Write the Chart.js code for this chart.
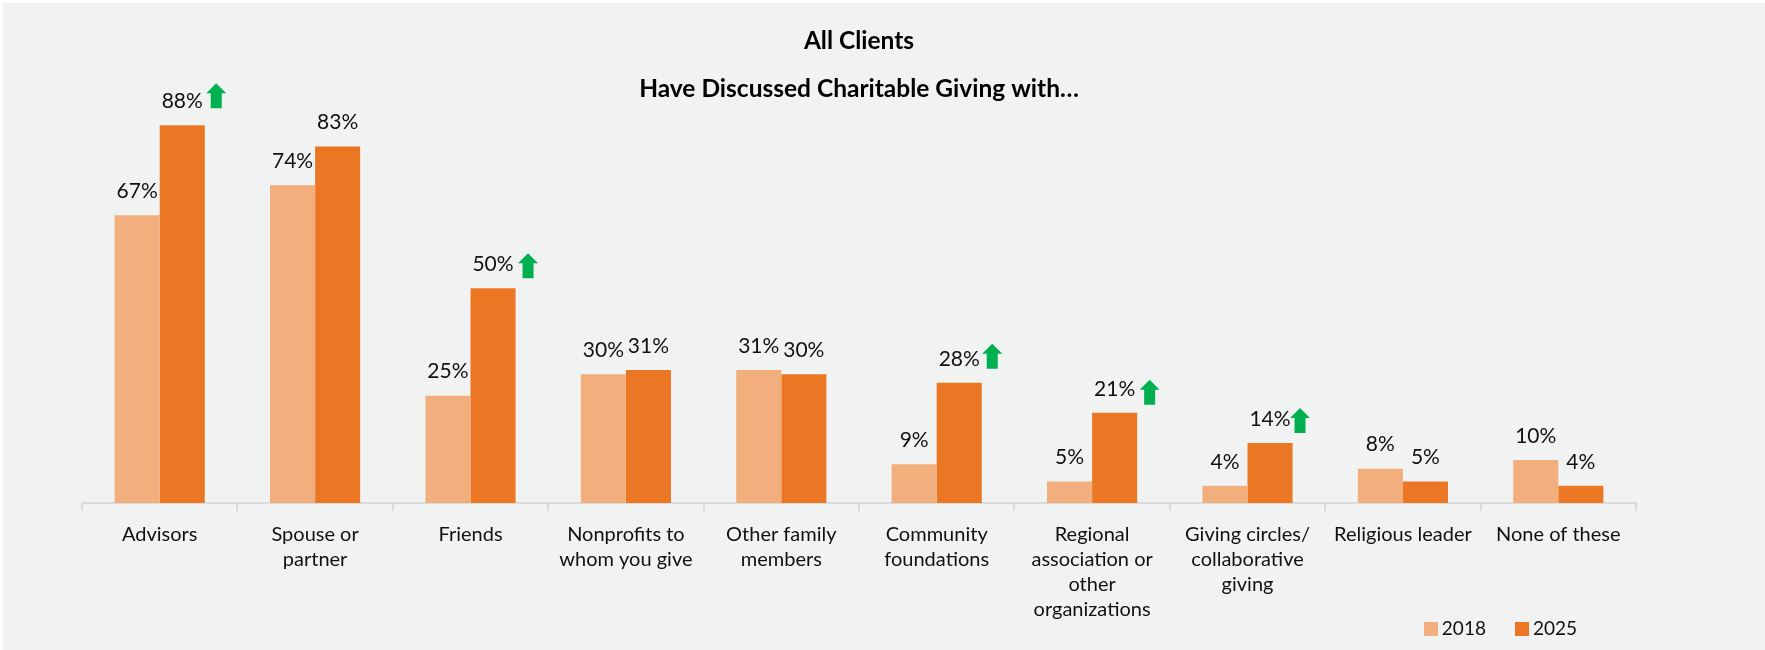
<!DOCTYPE html>
<html>
<head>
<meta charset="utf-8">
<title>All Clients</title>
<script src="https://cdn.jsdelivr.net/npm/chart.js@4"></script>
<style>
  html, body { margin: 0; padding: 0; background: #fff; }
  canvas { display: block; }
</style>
</head>
<body>
<canvas id="giving-chart" width="1765" height="650"></canvas>
<script>
const categories = [
  "Advisors",
  ["Spouse or", "partner"],
  "Friends",
  ["Nonprofits to", "whom you give"],
  ["Other family", "members"],
  ["Community", "foundations"],
  ["Regional", "association or", "other", "organizations"],
  ["Giving circles/", "collaborative", "giving"],
  "Religious leader",
  "None of these",
];
const values2018 = [67, 74, 25, 30, 31, 9, 5, 4, 8, 10];
const values2025 = [88, 83, 50, 31, 30, 28, 21, 14, 5, 4];
// Categories where 2025 is marked with a green up arrow
const risingCategories = [0, 2, 5, 6, 7];

const LIGHT_ORANGE = "#f2ae7c";
const DARK_ORANGE = "#eb7724";
const GREEN = "#00b050";
const FONT = "Lato, Carlito, sans-serif";

// Legend swatch as a small canvas, so the text can sit close to it
const makeSwatch = (color) => {
  const swatch = document.createElement("canvas");
  swatch.width = 14;
  swatch.height = 14;
  const ctx = swatch.getContext("2d");
  ctx.fillStyle = color;
  ctx.fillRect(0, 0, 14, 14);
  return swatch;
};
const swatches = [makeSwatch(LIGHT_ORANGE), makeSwatch(DARK_ORANGE)];

// Panel background, with the thin white margin on the top and left
const panelBackground = {
  id: "panelBackground",
  beforeDraw: (chart) => {
    const ctx = chart.ctx;
    ctx.save();
    ctx.fillStyle = "#f1f3f2";
    ctx.fillRect(3, 3, chart.width - 3, chart.height - 3);
    ctx.restore();
  },
};

// The legend takes no layout room: it sits at the lower right, beside the tick labels
const legendPlacement = {
  id: "legendPlacement",
  beforeLayout: (chart) => {
    const legend = chart.legend;
    legend.fit = function () {
      Object.getPrototypeOf(legend).fit.call(this);
      this.height = 0;
    };
  },
  afterLayout: (chart) => {
    const legend = chart.legend;
    const padding = legend.options.labels.padding;
    legend.right = 1577 + padding;
    legend.top = 619 - padding;
  },
};

// Percent labels above each bar, plus the arrows next to rising values
const barLabels = {
  id: "barLabels",
  afterDatasetsDraw: (chart) => {
    const ctx = chart.ctx;
    ctx.save();
    ctx.font = "21px " + FONT;
    ctx.fillStyle = "#111";
    ctx.textAlign = "center";
    ctx.textBaseline = "middle";
    chart.data.datasets.forEach((dataset, d) => {
      chart.getDatasetMeta(d).data.forEach((bar, i) => {
        ctx.fillText(dataset.data[i] + "%", bar.x, bar.y - 24);
      });
    });

    const bars = chart.getDatasetMeta(1).data;
    const arrowShift = { 0: [34, 17], 2: [35, 10], 5: [33, 14], 6: [35, 8], 7: [30, 10] };
    risingCategories.forEach((i) => {
      const x = bars[i].x + arrowShift[i][0];
      const bottom = bars[i].y - arrowShift[i][1];
      ctx.fillStyle = GREEN;
      ctx.beginPath();
      ctx.moveTo(x - 5.5, bottom);
      ctx.lineTo(x - 5.5, bottom - 15);
      ctx.lineTo(x - 10, bottom - 15);
      ctx.lineTo(x, bottom - 25);
      ctx.lineTo(x + 10, bottom - 15);
      ctx.lineTo(x + 5.5, bottom - 15);
      ctx.lineTo(x + 5.5, bottom);
      ctx.closePath();
      ctx.fill();
    });
    ctx.restore();
  },
};

new Chart(document.querySelector("#giving-chart"), {
  type: "bar",
  data: {
    labels: categories,
    datasets: [
      {
        label: "2018",
        data: values2018,
        backgroundColor: LIGHT_ORANGE,
        categoryPercentage: 0.58,
        barPercentage: 1,
      },
      {
        label: "2025",
        data: values2025,
        backgroundColor: DARK_ORANGE,
        categoryPercentage: 0.58,
        barPercentage: 1,
      },
    ],
  },
  plugins: [panelBackground, legendPlacement, barLabels],
  options: {
    responsive: false,
    animation: false,
    devicePixelRatio: 1,
    layout: { padding: { left: 82, right: 129, top: 0, bottom: 0 } },
    scales: {
      x: {
        offset: true,
        grid: {
          drawOnChartArea: false,
          color: "#d9dbda",
          lineWidth: 2,
          tickLength: 8,
        },
        border: { color: "#d9dbda", width: 2 },
        ticks: {
          autoSkip: false,
          maxRotation: 0,
          minRotation: 0,
          padding: 11,
          color: "#111",
          font: { family: FONT, size: 20, lineHeight: 1.25 },
        },
        afterFit: (scale) => {
          scale.height = 147;
        },
      },
      y: { display: false, min: 0, max: 90 },
    },
    plugins: {
      tooltip: { enabled: false },
      title: {
        display: true,
        fullSize: false,
        text: ["All Clients", "Have Discussed Charitable Giving with…"],
        color: "#000",
        font: { family: FONT, size: 24.5, weight: "bold", lineHeight: 1.96 },
        padding: { top: 17.5, bottom: 3 },
      },
      legend: {
        position: "bottom",
        align: "end",
        labels: {
          usePointStyle: true,
          pointStyleWidth: 2,
          boxHeight: 14,
          padding: 35.5,
          color: "#111",
          font: { family: FONT, size: 19 },
          generateLabels: (chart) =>
            Chart.defaults.plugins.legend.labels
              .generateLabels(chart)
              .map((item, i) => ({ ...item, pointStyle: swatches[i] })),
        },
      },
    },
  },
});
</script>
</body>
</html>
